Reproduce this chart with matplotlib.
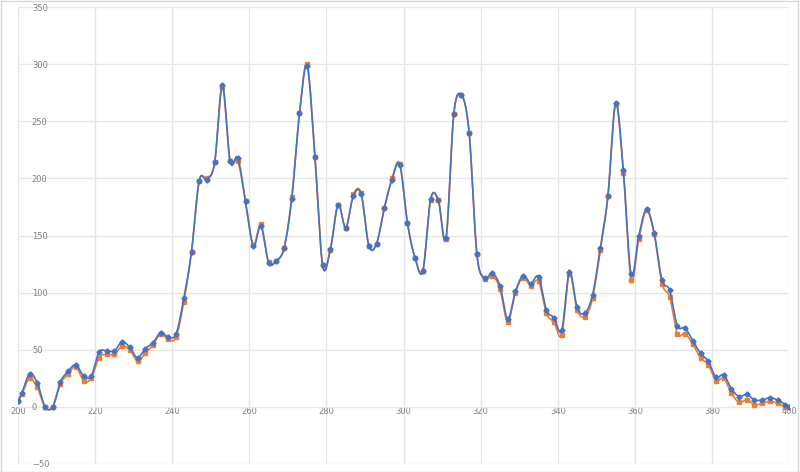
import matplotlib
matplotlib.use("Agg")
import matplotlib.pyplot as plt
import numpy as np

# x positions: 200, then odd values 201..399, then 400
x = [200] + list(range(201, 400, 2)) + [400]

blue = [5, 12, 29, 21, 0, 0, 22, 31, 37, 27, 27, 48, 49, 49, 57, 52, 43, 51, 56, 65,
        61, 64, 95, 136, 198, 199, 214, 282, 215, 218, 180, 141, 158, 126, 128, 139, 182, 257,
        298, 219, 124, 138, 177, 157, 185, 186, 141, 143, 174, 199, 212, 161, 130, 119,
        182, 181, 148, 256, 273, 240, 134, 113, 117, 106, 77, 101, 115, 108, 114, 85, 78,
        67, 118, 87, 82, 98, 139, 185, 266, 207, 116, 150, 173, 152, 111, 102, 71, 69, 58,
        47, 40, 26, 28, 16, 9, 11, 6, 6, 8, 6, 2, 0]
orange = [5, 11, 25, 17, 0, 0, 20, 29, 35, 23, 25, 43, 46, 46, 53, 50, 40, 47, 54, 64,
          59, 61, 92, 136, 198, 200, 214, 280, 215, 215, 180, 142, 160, 127, 128, 139, 184, 257,
          300, 219, 124, 137, 177, 157, 186, 187, 141, 143, 174, 200, 213, 161, 130, 119,
          181, 181, 147, 256, 273, 240, 134, 112, 115, 103, 74, 100, 113, 106, 110, 82, 74,
          63, 116, 85, 79, 95, 137, 185, 265, 205, 111, 147, 172, 151, 108, 96, 64, 64, 55,
          43, 37, 23, 25, 12, 4, 6, 2, 3, 5, 3, 0, 0]


def smooth(xs, ys, n=12):
    # Catmull-Rom style smoothing, similar to Excel's smoothed line
    xs = np.asarray(xs, float)
    ys = np.asarray(ys, float)
    px = np.concatenate([[2 * xs[0] - xs[1]], xs, [2 * xs[-1] - xs[-2]]])
    py = np.concatenate([[2 * ys[0] - ys[1]], ys, [2 * ys[-1] - ys[-2]]])
    outx, outy = [], []
    t = np.linspace(0, 1, n, endpoint=False)
    for i in range(1, len(px) - 2):
        for p, out in ((px, outx), (py, outy)):
            p0, p1, p2, p3 = p[i - 1], p[i], p[i + 1], p[i + 2]
            out.extend(0.5 * (2 * p1 + (-p0 + p2) * t
                              + (2 * p0 - 5 * p1 + 4 * p2 - p3) * t ** 2
                              + (-p0 + 3 * p1 - 3 * p2 + p3) * t ** 3))
    outx.append(xs[-1])
    outy.append(ys[-1])
    return outx, outy


fig = plt.figure(figsize=(8, 4.72), dpi=100)
ax = fig.add_axes([0.0225, 0.017, 0.964, 0.968])

sx, sy = smooth(x, orange)
ax.plot(sx, sy, color="#ED7D31", lw=1.2, zorder=2)
ax.plot(x, orange, ls="none", marker="s", ms=3.2, color="#ED7D31", zorder=3)
sx, sy = smooth(x, blue)
ax.plot(sx, sy, color="#4472C4", lw=1.2, zorder=4)
ax.plot(x, blue, ls="none", marker="D", ms=2.6, color="#4472C4", zorder=5)

ax.set_xlim(200, 400)
ax.set_ylim(-50, 350)
ax.set_xticks(np.arange(200, 401, 20))
ax.set_yticks(np.arange(-50, 351, 50))
ax.grid(True, color="#E6E6E6", lw=1)
ax.set_axisbelow(True)
ax.tick_params(length=0, labelsize=6, colors="#808080", pad=-10)
for lbl in ax.get_yticklabels():
    lbl.set_horizontalalignment("left")
for s in ax.spines.values():
    s.set_visible(False)
# x labels sit just under the zero line
ax.tick_params(axis="x", pad=0)
ax.spines["bottom"].set_position(("data", 0))

# light outer frame of the chart area
fig.patches.append(plt.Rectangle((0.001, 0.001), 0.997, 0.997, transform=fig.transFigure,
                                 fill=False, ec="#D9D9D9", lw=1))

fig.savefig("out.png", dpi=100)
